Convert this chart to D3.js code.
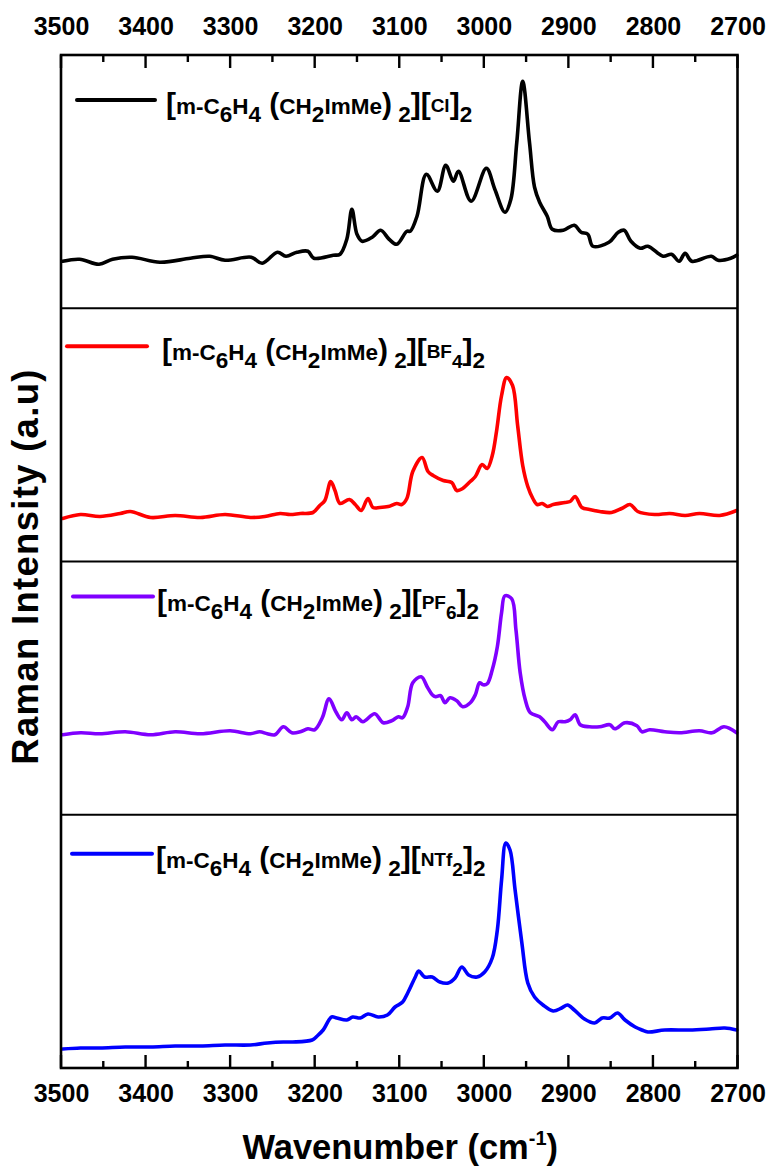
<!DOCTYPE html>
<html>
<head>
<meta charset="utf-8">
<script src="https://cdn.jsdelivr.net/npm/d3@7"></script>
<style>
  html, body { margin: 0; padding: 0; background: #fff; }
  svg { display: block; font-family: "Liberation Sans", Arial, Helvetica, sans-serif; }
</style>
</head>
<body>
<svg id="chart" width="774" height="1171"></svg>
<script>
// ---------------- DATA ----------------
const majorTicks = [3500, 3400, 3300, 3200, 3100, 3000, 2900, 2800, 2700];
const minorTicks = [3450, 3350, 3250, 3150, 3050, 2950, 2850, 2750];
const xTitle = "Wavenumber (cm";
const yTitle = "Raman Intensity (a.u)";

const anions = ["Cl", "BF4", "PF6", "NTf2"];
const seriesColors = ["#000000", "#ff0000", "#8000ff", "#0000ff"];

// [m-C6H4(CH2ImMe)2][Cl]2
const clWave = [3498,3478,3455,3439,3416,3383,3347,3324,3306,3275,3262,3244,3234,3221,3208,3201,3178,3170,3162,3156,3150,3144,3132,3122,3112,3103,3091,3087,3079,3068,3055,3045,3036,3030,3015,2997,2987,2975,2968,2961,2954,2946,2940,2934,2925,2919,2906,2893,2885,2877,2871,2852,2841,2834,2826,2815,2806,2788,2778,2769,2762,2754,2731,2723,2708,2701];
const clInt  = [47,49,44,49,51,46,50,52,48,51,45,56,52,56,57,50,53,54,69,99,74,67,71,78,69,64,77,77,92,134,117,143,127,137,107,140,119,96,109,166,227,166,121,106,92,79,78,83,76,74,62,66,76,78,67,60,62,52,54,47,55,47,52,48,50,53];

// [m-C6H4(CH2ImMe)2][BF4]2
const bf4Wave = [3498,3477,3454,3430,3418,3394,3365,3335,3306,3276,3259,3241,3229,3217,3202,3194,3188,3181,3176,3170,3159,3152,3145,3137,3131,3123,3113,3103,3097,3091,3084,3073,3066,3060,3048,3038,3032,3025,3016,3010,3002,2996,2990,2985,2979,2973,2966,2960,2954,2948,2942,2937,2931,2925,2918,2904,2898,2892,2884,2875,2863,2849,2837,2827,2818,2798,2780,2762,2745,2721,2701];
const bf4Int  = [43,47,45,48,50,44,46,44,47,44,45,48,47,48,49,56,61,80,71,58,62,57,51,63,54,54,55,58,57,63,90,104,90,86,81,79,71,73,80,85,97,93,106,130,166,184,176,136,96,75,63,57,58,55,57,59,60,65,54,52,50,49,53,57,50,47,48,46,48,46,51];

// [m-C6H4(CH2ImMe)2][PF6]2
const pf6Wave = [3498,3477,3454,3424,3394,3365,3335,3300,3276,3265,3256,3247,3237,3227,3217,3208,3200,3191,3183,3175,3168,3162,3156,3151,3143,3129,3119,3109,3101,3096,3090,3084,3074,3067,3061,3057,3051,3046,3040,3032,3025,3016,3010,3005,3001,2996,2990,2984,2979,2975,2967,2962,2957,2951,2945,2934,2928,2919,2912,2904,2898,2892,2886,2875,2863,2851,2845,2833,2819,2813,2804,2786,2768,2745,2730,2716,2701];
const pf6Int  = [80,82,81,83,80,83,81,84,81,83,81,80,88,82,83,86,85,97,116,103,95,102,95,98,93,101,92,94,98,97,108,132,138,128,120,118,119,112,117,114,108,112,120,132,130,131,145,168,202,219,216,185,142,115,102,98,93,85,93,93,95,100,90,88,88,90,86,92,89,83,85,83,82,84,82,88,82];

// [m-C6H4(CH2ImMe)2][NTf2]2
const ntfWave = [3498,3477,3454,3424,3394,3365,3335,3306,3276,3256,3237,3226,3203,3197,3190,3180,3174,3162,3155,3146,3137,3125,3114,3105,3096,3090,3081,3077,3070,3061,3052,3042,3034,3026,3018,3008,2999,2990,2984,2979,2974,2969,2963,2955,2948,2940,2930,2918,2908,2901,2893,2881,2869,2860,2851,2842,2833,2821,2813,2806,2786,2757,2733,2715,2701];
const ntfInt  = [19,20,20,21,21,22,22,23,23,25,26,26,28,32,38,51,50,48,51,50,54,51,53,61,66,75,91,97,91,91,86,85,90,101,93,91,96,110,138,188,225,218,178,125,85,71,63,57,60,63,58,49,45,50,50,55,48,41,38,36,38,38,39,40,38];

const seriesWave = [clWave, bf4Wave, pf6Wave, ntfWave];
const seriesInt  = [clInt, bf4Int, pf6Int, ntfInt];

// ---------------- LAYOUT ----------------
const mLeft = 61, mRight = 737.5, mTop = 55, mBottom = 1068;
const nPanels = 4;
const panelH = (mBottom - mTop) / nPanels;
const legendDy = [45, 38, 35, 39];
const legendLine = [[77, 155], [67, 147], [73, 153], [72, 152]];
const legendTextX = [166, 162, 157, 156];

const svg = d3.select("#chart");

const x = d3.scaleLinear().domain([3500, 2700]).range([mLeft, mRight]);

// panels
for (let i = 0; i < nPanels; i++) {
  const y0 = mTop + i * panelH;
  const y = d3.scaleLinear().domain([0, panelH]).range([y0 + panelH, y0]);
  const data = seriesWave[i].map((w, k) => ({ w, v: seriesInt[i][k] }));
  const line = d3.line()
    .x(d => x(d.w))
    .y(d => y(d.v))
    .curve(d3.curveCatmullRom.alpha(0.5));
  svg.append("path")
    .datum(data)
    .attr("d", line)
    .attr("fill", "none")
    .attr("stroke", seriesColors[i])
    .attr("stroke-width", 3.6)
    .attr("stroke-linejoin", "round")
    .attr("stroke-linecap", "round");

  // legend
  const ly = y0 + legendDy[i];
  svg.append("line")
    .attr("x1", legendLine[i][0]).attr("x2", legendLine[i][1])
    .attr("y1", ly).attr("y2", ly)
    .attr("stroke", seriesColors[i]).attr("stroke-width", 4)
    .attr("stroke-linecap", "round");

  const t = svg.append("text")
    .attr("x", legendTextX[i]).attr("y", ly + 14)
    .attr("font-weight", "bold").attr("font-size", 22).attr("fill", "#000");
  const sub = 8;
  const fsMain = 22.5, fsBr = 30, fsAn = 19;
  const parts = [
    { s: "[", fs: fsBr, dy: 0 },
    { s: "m-C", fs: fsMain, dy: 0 },
    { s: "6", fs: fsMain, dy: sub },
    { s: "H", fs: fsMain, dy: -sub },
    { s: "4", fs: fsMain, dy: sub },
    { s: "\u00a0(", fs: fsBr, dy: -sub },
    { s: "CH", fs: fsMain, dy: 0 },
    { s: "2", fs: fsMain, dy: sub },
    { s: "ImMe", fs: fsMain, dy: -sub },
    { s: ")", fs: fsBr, dy: 0 },
    { s: "\u00a02", fs: fsMain, dy: sub },
    { s: "][", fs: fsBr, dy: -sub }
  ];
  const an = anions[i];
  const m = an.match(/^([A-Za-z]+)(\d*)$/);
  parts.push({ s: m[1], fs: fsAn, dy: -2 });
  if (m[2]) parts.push({ s: m[2], fs: fsAn, dy: sub + 2 });
  parts.push({ s: "]", fs: fsBr, dy: m[2] ? -sub : 2 });
  parts.push({ s: "2", fs: fsMain, dy: sub });
  parts.forEach(p => {
    t.append("tspan").attr("font-size", p.fs).attr("dy", p.dy).text(p.s);
  });

  // separator
  if (i > 0) {
    svg.append("line")
      .attr("x1", mLeft).attr("x2", mRight)
      .attr("y1", y0).attr("y2", y0)
      .attr("stroke", "#000").attr("stroke-width", 2.2);
  }
}

// outer frame
svg.append("rect")
  .attr("x", mLeft).attr("y", mTop)
  .attr("width", mRight - mLeft).attr("height", mBottom - mTop)
  .attr("fill", "none").attr("stroke", "#000").attr("stroke-width", 2.6);

// inward tick marks drawn from the scale
function drawTicks(values, yEdge, len, dir) {
  const g = svg.append("g").attr("class", "inner-ticks");
  values.forEach(v => {
    g.append("rect")
      .attr("x", x(v) - 1.2).attr("width", 2.4)
      .attr("y", dir > 0 ? yEdge : yEdge - len).attr("height", len)
      .attr("fill", "#000");
  });
}
drawTicks(majorTicks, mTop, 13, 1);
drawTicks(minorTicks, mTop, 7, 1);
drawTicks(majorTicks, mBottom, 13, -1);
drawTicks(minorTicks, mBottom, 7, -1);

// tick labels through axes
svg.append("g").attr("transform", `translate(0,${mTop})`)
  .call(d3.axisTop(x).tickValues(majorTicks).tickFormat(d3.format("d"))
    .tickSize(0).tickPadding(20));
svg.append("g").attr("transform", `translate(0,${mBottom})`)
  .call(d3.axisBottom(x).tickValues(majorTicks).tickFormat(d3.format("d"))
    .tickSize(0).tickPadding(16));

svg.selectAll(".domain").remove();
svg.selectAll(".tick line").remove();
svg.selectAll(".tick text")
  .attr("font-family", "Liberation Sans, Arial, sans-serif")
  .attr("font-size", 25).attr("font-weight", "bold").attr("fill", "#000");

// axis titles
const xt = svg.append("text")
  .attr("x", (mLeft + mRight) / 2 + 1).attr("y", 1159)
  .attr("text-anchor", "middle")
  .attr("font-size", 34.5).attr("font-weight", "bold");
xt.append("tspan").text(xTitle);
xt.append("tspan").attr("font-size", 20).attr("dy", -14).text("-1");
xt.append("tspan").attr("dy", 14).text(")");

svg.append("text")
  .attr("transform", `translate(38,${(mTop + mBottom) / 2 + 5}) rotate(-90)`)
  .attr("text-anchor", "middle")
  .attr("font-size", 36.5).attr("font-weight", "bold")
  .attr("letter-spacing", 1.3)
  .text(yTitle);
</script>
</body>
</html>
